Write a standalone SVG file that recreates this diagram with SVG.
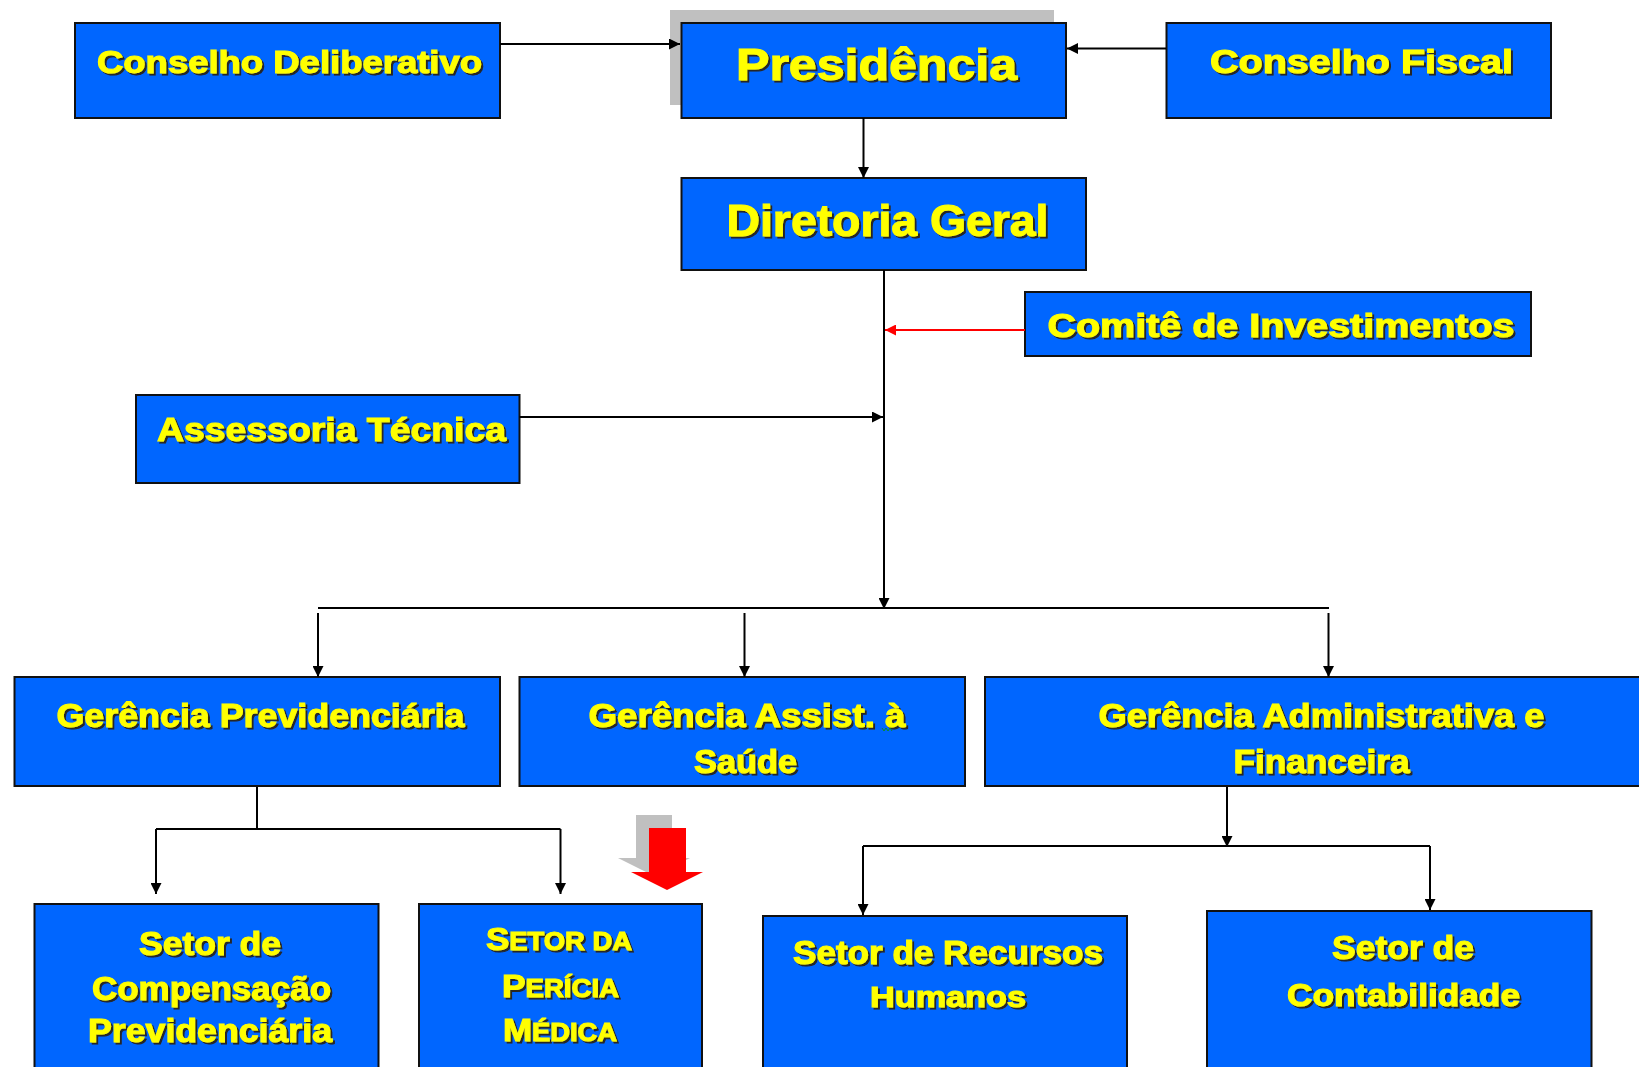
<svg xmlns="http://www.w3.org/2000/svg" width="1639" height="1067" viewBox="0 0 1639 1067">
<defs>
<style>
.box{fill:#0066ff;stroke:#111;stroke-width:2}
.t{font-family:"Liberation Sans",Arial,sans-serif;font-weight:bold;fill:#ffff00;stroke:#ffff00;stroke-width:1.1;filter:url(#sh)}
.c{fill:none;stroke:#000;stroke-width:2}
.r{fill:none;stroke:#ff0000;stroke-width:2}
</style>
<filter id="sh" x="-5%" y="-20%" width="110%" height="150%">
<feDropShadow dx="2" dy="2" stdDeviation="0.4" flood-color="#262626" flood-opacity="1"/>
</filter>
<marker id="ah" viewBox="0 0 10 10" refX="10" refY="5" markerWidth="5.5" markerHeight="5.5" orient="auto" markerUnits="strokeWidth">
<path d="M0,0 L10,5 L0,10 z" fill="#000"/>
</marker>
<marker id="ahr" viewBox="0 0 10 10" refX="10" refY="5" markerWidth="5.5" markerHeight="5.5" orient="auto" markerUnits="strokeWidth">
<path d="M0,0 L10,5 L0,10 z" fill="#ff0000"/>
</marker>
</defs>
<rect width="1639" height="1067" fill="#fff"/>

<g id="block-arrow">
<path d="M636,815 L672,815 L672,858 L690,858 L654,876 L618,858 L636,858 z" fill="#c0c0c0"/>
<path d="M649,828 L686,828 L686,872 L703,872 L667,890 L631,872 L649,872 z" fill="#ff0000"/>
</g>

<g id="n-conselho-deliberativo">
<rect class="box" x="75" y="23" width="425" height="95"/>
<text class="t" x="97" y="73" font-size="32" textLength="385" lengthAdjust="spacingAndGlyphs">Conselho Deliberativo</text>
</g>
<g id="n-presidencia">
<rect x="670" y="10" width="384" height="95" fill="#c0c0c0"/>
<rect class="box" x="681.5" y="23" width="384.5" height="95"/>
<text class="t" x="736" y="80" font-size="45" textLength="281" lengthAdjust="spacingAndGlyphs">Presidência</text>
</g>
<g id="n-conselho-fiscal">
<rect class="box" x="1166.5" y="23" width="384.5" height="95"/>
<text class="t" x="1210" y="73" font-size="33" textLength="303" lengthAdjust="spacingAndGlyphs">Conselho Fiscal</text>
</g>
<g id="n-diretoria-geral">
<rect class="box" x="681.5" y="178" width="404.5" height="92"/>
<text class="t" x="726.5" y="236" font-size="45" textLength="322" lengthAdjust="spacingAndGlyphs">Diretoria Geral</text>
</g>
<g id="n-comite">
<rect class="box" x="1025" y="292" width="506" height="64"/>
<text class="t" x="1047.5" y="337" font-size="34" textLength="467" lengthAdjust="spacingAndGlyphs">Comitê de Investimentos</text>
</g>
<g id="n-assessoria">
<rect class="box" x="136" y="395" width="383.5" height="88"/>
<text class="t" x="157" y="441" font-size="34" textLength="349" lengthAdjust="spacingAndGlyphs">Assessoria Técnica</text>
</g>
<g id="n-gerencia-prev">
<rect class="box" x="14.5" y="677" width="485.5" height="109"/>
<text class="t" x="56.5" y="727" font-size="33" textLength="408" lengthAdjust="spacingAndGlyphs">Gerência Previdenciária</text>
</g>
<g id="n-gerencia-saude">
<rect class="box" x="519.5" y="677" width="445.5" height="109"/>
<text class="t" x="588.5" y="727" font-size="33" textLength="317" lengthAdjust="spacingAndGlyphs">Gerência Assist. à</text>
<text class="t" x="694" y="773" font-size="33" textLength="103" lengthAdjust="spacingAndGlyphs">Saúde</text>
<path d="M882,728 l2,3 l2,-3 l2,3 l2,-3 l2,3" fill="none" stroke="#0a8a2a" stroke-width="1"/>
</g>
<g id="n-gerencia-adm">
<rect class="box" x="985" y="677" width="670" height="109"/>
<text class="t" x="1098.5" y="727" font-size="33" textLength="446" lengthAdjust="spacingAndGlyphs">Gerência Administrativa e</text>
<text class="t" x="1233.5" y="773" font-size="33" textLength="176" lengthAdjust="spacingAndGlyphs">Financeira</text>
</g>
<g id="n-setor-compensacao">
<rect class="box" x="34.5" y="904" width="344" height="175"/>
<text class="t" x="139" y="955" font-size="33" textLength="142" lengthAdjust="spacingAndGlyphs">Setor de</text>
<text class="t" x="92" y="1000" font-size="33" textLength="239" lengthAdjust="spacingAndGlyphs">Compensação</text>
<text class="t" x="88" y="1042" font-size="33" textLength="244" lengthAdjust="spacingAndGlyphs">Previdenciária</text>
</g>
<g id="n-setor-pericia">
<rect class="box" x="419" y="904" width="283" height="175"/>
<text class="t" x="486" y="950" font-size="32" textLength="146" lengthAdjust="spacingAndGlyphs">S<tspan font-size="25">ETOR DA</tspan></text>
<text class="t" x="502" y="997" font-size="32" textLength="117" lengthAdjust="spacingAndGlyphs">P<tspan font-size="25">ERÍCIA</tspan></text>
<text class="t" x="503" y="1041" font-size="32" textLength="114" lengthAdjust="spacingAndGlyphs">M<tspan font-size="25">ÉDICA</tspan></text>
</g>
<g id="n-setor-rh">
<rect class="box" x="763" y="916" width="364" height="163"/>
<text class="t" x="793" y="964" font-size="33" textLength="310" lengthAdjust="spacingAndGlyphs">Setor de Recursos</text>
<text class="t" x="870" y="1007" font-size="29" textLength="156" lengthAdjust="spacingAndGlyphs">Humanos</text>
</g>
<g id="n-setor-contabilidade">
<rect class="box" x="1207" y="911" width="384.5" height="168"/>
<text class="t" x="1332" y="959" font-size="33" textLength="142" lengthAdjust="spacingAndGlyphs">Setor de</text>
<text class="t" x="1287" y="1006" font-size="31" textLength="233" lengthAdjust="spacingAndGlyphs">Contabilidade</text>
</g>

<g id="connectors">
<line class="c" x1="500" y1="44" x2="680" y2="44" marker-end="url(#ah)"/>
<line class="c" x1="1166" y1="48.5" x2="1067" y2="48.5" marker-end="url(#ah)"/>
<line class="c" x1="863.5" y1="118" x2="863.5" y2="178" marker-end="url(#ah)"/>
<line class="c" x1="884" y1="270" x2="884" y2="609" marker-end="url(#ah)"/>
<line class="r" x1="1025" y1="330" x2="885" y2="330" marker-end="url(#ahr)"/>
<line class="c" x1="519.5" y1="417" x2="883" y2="417" marker-end="url(#ah)"/>
<line class="c" x1="318" y1="608" x2="1329" y2="608"/>
<line class="c" x1="318" y1="613" x2="318" y2="677" marker-end="url(#ah)"/>
<line class="c" x1="744.5" y1="613" x2="744.5" y2="677" marker-end="url(#ah)"/>
<line class="c" x1="1328.5" y1="613" x2="1328.5" y2="677" marker-end="url(#ah)"/>
<line class="c" x1="257" y1="787" x2="257" y2="829"/>
<line class="c" x1="156" y1="829" x2="560.5" y2="829"/>
<line class="c" x1="156" y1="829" x2="156" y2="894" marker-end="url(#ah)"/>
<line class="c" x1="560.5" y1="829" x2="560.5" y2="894" marker-end="url(#ah)"/>
<line class="c" x1="1227" y1="787" x2="1227" y2="847" marker-end="url(#ah)"/>
<line class="c" x1="863" y1="846" x2="1430" y2="846"/>
<line class="c" x1="863" y1="846" x2="863" y2="915" marker-end="url(#ah)"/>
<line class="c" x1="1430" y1="846" x2="1430" y2="910" marker-end="url(#ah)"/>
</g>
</svg>
